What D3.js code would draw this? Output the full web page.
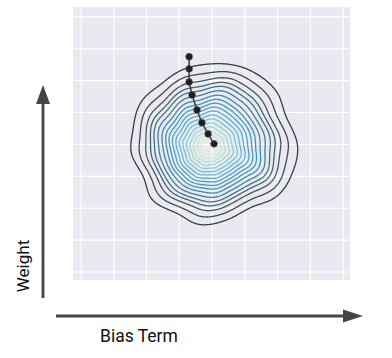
<!DOCTYPE html>
<html><head><meta charset="utf-8">
<script src="https://cdn.jsdelivr.net/npm/d3@7"></script>
<style>body{margin:0;background:#fff}svg{display:block}</style>
</head><body>
<script>
// ---- data ----
const xTicks = [-4,-3,-2,-1,0,1,2,3,4];
const yTicks = [-4,-3,-2,-1,0,1,2,3,4];
const lossCenter = [-0.12, -0.10];            // minimum of the loss surface (bias, weight)
const outerRadius = [2.68,2.62,2.69,2.66,2.72,2.57,2.54,2.46,2.41,2.32,2.20,2.32,2.31,2.38,2.34,2.31,2.48,2.72];
// small wobble of the contours, every 20 degrees (relative)
const ripple = [0.025,-0.015,0.02,-0.02,0.015,0.03,-0.02,0.01,-0.025,0.02,-0.01,0.025,-0.02,0.015,-0.025,0.02,0.0,-0.02];
const levelFractions = [0.10,0.145,0.19,0.235,0.28,0.325,0.37,0.415,0.46,0.505,0.55,0.60,0.655,0.71,0.76,0.82,0.90,1.0];
const pathBias   = [-0.70,-0.70,-0.70,-0.61,-0.46,-0.31,-0.12,0.06];
const pathWeight = [2.75,2.37,1.96,1.55,1.08,0.68,0.33,0.02];

const W = 392, H = 358;
const svg = d3.select("body").append("svg").attr("width",W).attr("height",H);

const x = d3.scaleLinear().domain([-4.245,4.21]).range([73,350]);
const y = d3.scaleLinear().domain([4.31,-4.25]).range([7,280]);

svg.append("rect").attr("x",73).attr("y",7).attr("width",277).attr("height",273).attr("fill","#e9e9f1");
svg.append("g").selectAll("line").data(xTicks).join("line")
  .attr("x1",d=>x(d)).attr("x2",d=>x(d)).attr("y1",7).attr("y2",280)
  .attr("stroke","#fff").attr("stroke-width",1.1);
svg.append("g").selectAll("line").data(yTicks).join("line")
  .attr("y1",d=>y(d)).attr("y2",d=>y(d)).attr("x1",73).attr("x2",350)
  .attr("stroke","#fff").attr("stroke-width",1.1);

function cyc(arr, theta){
  const n = arr.length, step = 2*Math.PI/n;
  let t = ((theta % (2*Math.PI)) + 2*Math.PI) % (2*Math.PI);
  const i = Math.floor(t/step), u = t/step - i;
  const p0 = arr[(i-1+n)%n], p1 = arr[i%n], p2 = arr[(i+1)%n], p3 = arr[(i+2)%n];
  return 0.5*((2*p1) + (-p0+p2)*u + (2*p0-5*p1+4*p2-p3)*u*u + (-p0+3*p1-3*p2+p3)*u*u*u);
}

const N = 340, M = 340;
const gx0 = -4.245, gx1 = 4.21, gy0 = 4.31, gy1 = -4.25;
const values = new Float64Array(N*M);
for (let j=0;j<M;j++){
  const wy = gy0 + (gy1-gy0)*j/(M-1);
  for (let i=0;i<N;i++){
    const wx = gx0 + (gx1-gx0)*i/(N-1);
    const dx = wx - lossCenter[0], dy = wy - lossCenter[1];
    const r = Math.hypot(dx,dy), th = Math.atan2(dy,dx);
    const rr = cyc(outerRadius, th) * (1 + cyc(ripple, th + r*0.25));
    values[j*N+i] = -(r / rr);
  }
}
const contours = d3.contours().size([N,M]).thresholds(levelFractions.map(v=>-v))(values);
const proj = d3.geoTransform({point:function(px,py){
  const wx = gx0 + (gx1-gx0)*(px-0.5)/(N-1);
  const wy = gy0 + (gy1-gy0)*(py-0.5)/(M-1);
  this.stream.point(x(wx), y(wy));
}});
const path = d3.geoPath(proj);
const color = d3.scaleSequential(d3.interpolateRgbBasis(["#d8f1c6","#a6dccf","#62bcd6","#3c9fc6","#3e8aa6","#456a76","#454a4d","#3c3c3c"]))
  .domain([0.1,1.0]);
svg.append("g").attr("fill","none").selectAll("path").data(contours).join("path")
  .attr("d",path).attr("stroke",d=>color(-d.value)).attr("stroke-width",1.3);

const pts = pathBias.map((b,i)=>[b,pathWeight[i]]);
svg.append("path").datum(pts).attr("fill","none").attr("stroke","#3a3a3a").attr("stroke-width",1.5)
  .attr("d",d3.line().x(d=>x(d[0])).y(d=>y(d[1])));
svg.append("g").selectAll("circle").data(pts).join("circle")
  .attr("cx",d=>x(d[0])).attr("cy",d=>y(d[1])).attr("r",3.4)
  .attr("fill","#1f1f1f").attr("stroke","#555").attr("stroke-width",0.6);

const ac = "#454545";
svg.append("line").attr("x1",43).attr("x2",43).attr("y1",298).attr("y2",102).attr("stroke",ac).attr("stroke-width",2.8);
svg.append("path").attr("d","M43,85 L50,104 L36,104 Z").attr("fill",ac);
svg.append("line").attr("x1",56).attr("x2",345).attr("y1",316).attr("y2",316).attr("stroke",ac).attr("stroke-width",2.8);
svg.append("path").attr("d","M363,316 L343,309.5 L343,322.5 Z").attr("fill",ac);

svg.append("text").attr("transform","translate(29,266) rotate(-90)").attr("text-anchor","middle")
  .attr("font-family","Roboto").attr("font-size",17).attr("fill","#111").text("Weight");
svg.append("text").attr("x",100).attr("y",342)
  .attr("font-family","Roboto").attr("font-size",17.5).attr("fill","#111").text("Bias Term");
</script>
</body></html>
